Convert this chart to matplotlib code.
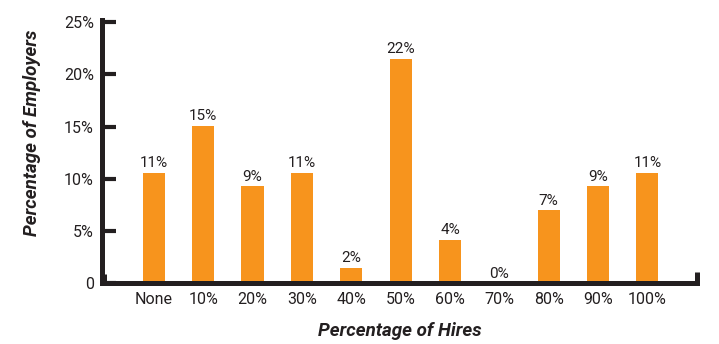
import matplotlib
matplotlib.use("Agg")
import matplotlib.pyplot as plt
from matplotlib import font_manager

# Share of employers by the percentage of hires
categories = ["None", "10%", "20%", "30%", "40%", "50%", "60%", "70%", "80%", "90%", "100%"]
employers_pct = [10.6, 15.1, 9.3, 10.6, 1.5, 21.5, 4.2, 0.0, 7.0, 9.3, 10.6]
y_ticks = [0, 5, 10, 15, 20, 25]
y_tick_labels = ["0", "5%", "10%", "15%", "20%", "25%"]

names = {f.name for f in font_manager.fontManager.ttflist}
family = "Liberation Sans Narrow" if "Liberation Sans Narrow" in names else "Roboto"
plt.rcParams["font.family"] = [family, "DejaVu Sans"]

BAR = "#F7941D"
INK = "#231F20"

fig = plt.figure(figsize=(7.19, 3.44), dpi=100)
ax = fig.add_axes([0.142, 0.176, 0.827, 0.766])

x = list(range(len(categories)))
bars = ax.bar(x, employers_pct, width=0.45, color=BAR, zorder=2)

for xi, v in zip(x, employers_pct):
    ax.text(xi, v + 0.25, f"{v:.0f}%", ha="center", va="bottom",
            fontsize=11, color=INK)

ax.set_xlim(-1.05, 11.0)
ax.set_ylim(0, 25.2)
ax.set_xticks(x)
ax.set_xticklabels(categories, fontsize=11.5, color=INK)
ax.set_yticks(y_ticks)
ax.set_yticklabels(y_tick_labels, fontsize=11.5, color=INK)

ax.tick_params(axis="x", length=0, pad=6)
ax.tick_params(axis="y", direction="in", length=10, width=3, color=INK, pad=6)

for side in ("top", "right"):
    ax.spines[side].set_visible(False)
for side in ("left", "bottom"):
    ax.spines[side].set_linewidth(3.6)
    ax.spines[side].set_color(INK)
    ax.spines[side].set_capstyle("projecting")

# small end caps on the baseline
ax.plot([1.0, 1.0], [0, 0.045], transform=ax.transAxes, color=INK, lw=3.6,
        solid_capstyle="butt", clip_on=False, zorder=3)
ax.plot([0.004, 0.004], [0, 0.035], transform=ax.transAxes, color=INK, lw=3.6,
        solid_capstyle="butt", clip_on=False, zorder=3)

ax.set_ylabel("Percentage of Employers", fontsize=13.5, fontweight="bold",
              fontstyle="italic", color=INK)
ax.yaxis.set_label_coords(-0.103, 0.57)
ax.set_xlabel("Percentage of Hires", fontsize=13.5, fontweight="bold",
              fontstyle="italic", color=INK, labelpad=11)

fig.savefig("out.png", dpi=100)
